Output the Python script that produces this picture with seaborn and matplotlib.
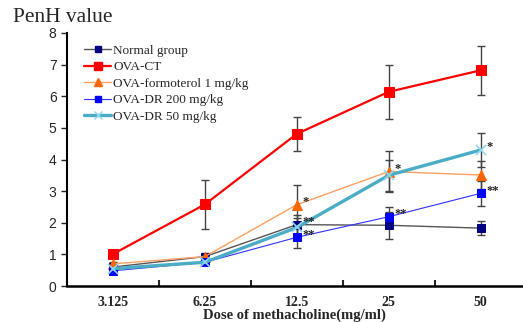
import matplotlib
matplotlib.use("Agg")
import matplotlib.pyplot as plt
import seaborn as sns
import pandas as pd
import numpy as np
from matplotlib.lines import Line2D

doses = ["3.125", "6.25", "12.5", "25", "50"]
groups = ["Normal group", "OVA-CT", "OVA-formoterol 1 mg/kg", "OVA-DR 200 mg/kg", "OVA-DR 50 mg/kg"]

normal = [0.60, 0.93, 1.94, 1.92, 1.83]
ova_ct = [1.01, 2.58, 4.81, 6.14, 6.82]
formoterol = [0.70, 0.93, 2.57, 3.62, 3.51]
dr200 = [0.48, 0.75, 1.54, 2.19, 2.93]
dr50 = [0.55, 0.75, 1.85, 3.50, 4.30]

normal_err = [0.05, 0.10, 0.32, 0.43, 0.23]
ova_ct_err = [0.00, 0.77, 0.53, 0.85, 0.77]
formoterol_err = [0.05, 0.08, 0.63, 0.66, 0.45]
dr200_err = [0.04, 0.06, 0.35, 0.32, 0.40]
dr50_err = [0.05, 0.06, 0.30, 0.50, 0.55]

# significance marks: (group, dose index, label)
stars = [("OVA-formoterol 1 mg/kg", 2, "*"), ("Normal group", 2, "**"), ("OVA-DR 200 mg/kg", 2, "**"),
         ("OVA-formoterol 1 mg/kg", 3, "*"), ("OVA-DR 200 mg/kg", 3, "**"),
         ("OVA-DR 50 mg/kg", 4, "*"), ("OVA-DR 200 mg/kg", 4, "**")]

values = [normal, ova_ct, formoterol, dr200, dr50]
errors = [normal_err, ova_ct_err, formoterol_err, dr200_err, dr50_err]

rows = []
for g, v, e in zip(groups, values, errors):
    for i, d in enumerate(doses):
        rows.append({"group": g, "dose": d, "pos": i, "value": v[i], "err": e[i]})
df = pd.DataFrame(rows)

sns.set_style("white")
plt.rcParams["font.family"] = ["Liberation Serif", "DejaVu Serif"]

fig = plt.figure(figsize=(5.23, 3.22), dpi=100)
ax = fig.add_axes([67/523, 1-286/322, (522-67)/523, (286-33)/322])

styles = {
    "Normal group": dict(lc="#555555", mc="#000080", marker="s", lw=1.0, ms=6, mec="#000080"),
    "OVA-CT": dict(lc="#FF0000", mc="#FF0000", marker="s", lw=1.6, ms=7, mec="#FF0000"),
    "OVA-formoterol 1 mg/kg": dict(lc="#FFA060", mc="#FF6600", marker="^", lw=1.0, ms=7, mec="#FF6600"),
    "OVA-DR 200 mg/kg": dict(lc="#3030FF", mc="#0000FF", marker="s", lw=0.8, ms=6, mec="#0000FF"),
    "OVA-DR 50 mg/kg": dict(lc="#4BACC6", mc="#8FD8F0", marker="x", lw=2.4, ms=7, mec="#8FD8F0"),
}

# error bars
for g in groups:
    sub = df[df.group == g]
    ax.errorbar(sub["pos"], sub["value"], yerr=sub["err"], fmt="none",
                ecolor="#444444", elinewidth=1.0, capsize=3, capthick=1.0, zorder=1)

palette = {g: styles[g]["lc"] for g in groups}
sns.lineplot(data=df, x="pos", y="value", hue="group", hue_order=groups, palette=palette,
             ax=ax, legend=False, sort=False, zorder=2)
for line, g in zip(ax.get_lines()[-len(groups):], groups):
    st = styles[g]
    line.set_linewidth(st["lw"])
    line.set_marker(st["marker"])
    line.set_markersize(st["ms"])
    line.set_markerfacecolor(st["mc"])
    line.set_markeredgecolor(st["mec"])
    if st["marker"] == "x":
        line.set_markeredgewidth(1.2)

# legend
handles = []
for g in groups:
    st = styles[g]
    handles.append(Line2D([0], [0], color=st["lc"], lw=st["lw"], marker=st["marker"],
                          markersize=st["ms"] - 1, markerfacecolor=st["mc"], markeredgecolor=st["mec"]))
leg = ax.legend(handles, groups, loc="upper left", bbox_to_anchor=(0.018, 0.99), frameon=False,
                fontsize=9.5, handlelength=2.0, handletextpad=0.2, labelspacing=0.32, borderpad=0.2)

# stars
gidx = {g: i for i, g in enumerate(groups)}
for g, di, lab in stars:
    v = values[gidx[g]][di]
    ax.text(di + 0.06, v + 0.08, lab, fontsize=9, color="#222222", ha="left", va="center",
            fontweight="bold")

ax.set_xlim(-0.5, 4.45)
ax.set_ylim(0, 8)
ax.set_xticks(range(len(doses)))
ax.set_xticklabels(doses, fontweight="bold", fontsize=10)
ax.set_xticks([0.5, 1.5, 2.5, 3.5], minor=True)
ax.tick_params(axis="x", which="major", length=0, pad=7)
ax.tick_params(axis="x", which="minor", direction="in", length=4, width=1.5, bottom=True)
ax.tick_params(axis="y", direction="out", length=4, width=1.0, left=True, labelsize=10)
for lab in ax.get_yticklabels():
    lab.set_fontfamily(["Liberation Sans", "DejaVu Sans"])
ax.set_yticks(range(0, 9))
ax.set_xlabel("Dose of methacholine(mg/ml)", fontweight="bold", fontsize=10.5, labelpad=0)
ax.set_ylabel("")
for s in ["top", "right"]:
    ax.spines[s].set_visible(False)
ax.spines["left"].set_color("black")
ax.spines["bottom"].set_color("black")
ax.spines["left"].set_linewidth(1.5)
ax.spines["bottom"].set_linewidth(1.8)

fig.text(13/523, 1-18/322, "PenH value", fontsize=15.5, ha="left", va="center")

fig.savefig("out.png", dpi=100)
